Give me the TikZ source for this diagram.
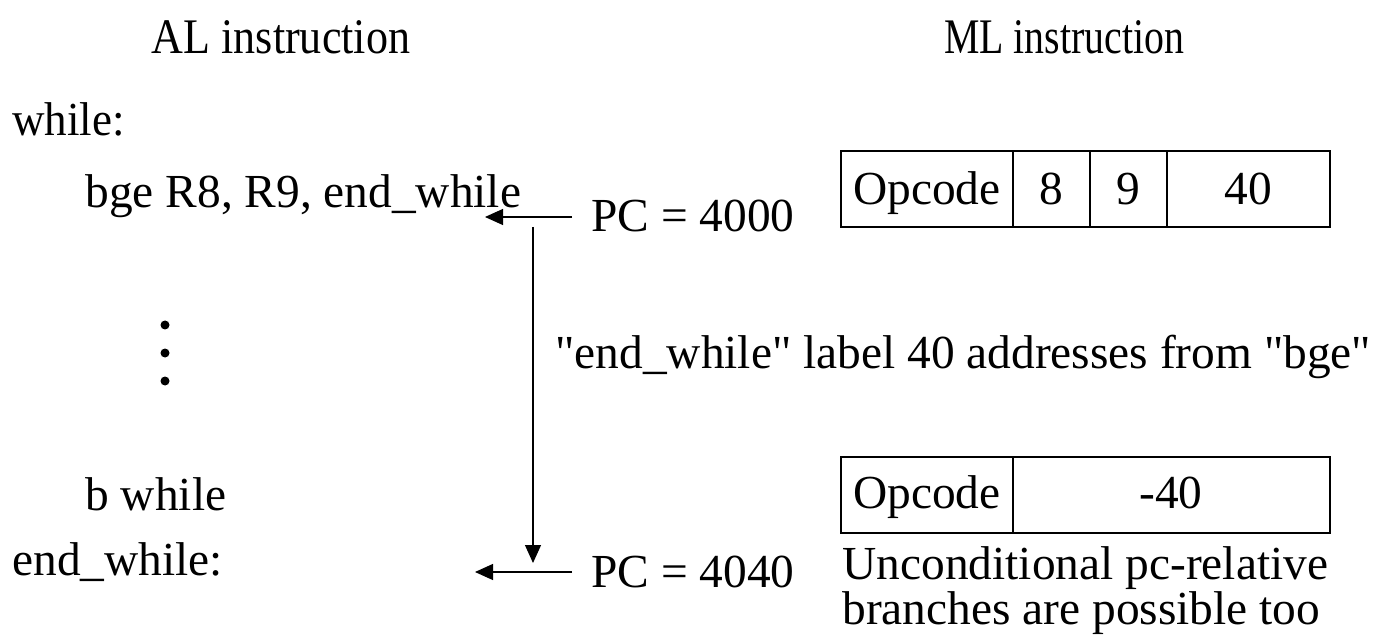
\documentclass[tikz,border=0pt]{standalone}
\usepackage{fontspec}
\usepackage{graphicx}
\setmainfont{Liberation Serif}[Ligatures=TeXOff]
\usetikzlibrary{arrows.meta}
\begin{document}
\begin{tikzpicture}[x=0.5pt,y=-0.5pt,
  txt/.style={inner sep=0pt,anchor=base west,font=\fontsize{23.7}{28}\selectfont},
  ctxt/.style={inner sep=0pt,anchor=base,font=\fontsize{23.7}{28}\selectfont},
  wire/.style={line width=0.6pt},
  arr/.style={wire,-{Triangle[length=9pt,width=8pt]}},
  cell/.style={line width=0.6pt},
  dot/.style={circle,fill,inner sep=0pt,minimum size=4.5pt}]
\useasboundingbox (0,0) rectangle (1390,641);

% column headings
\node[ctxt] (alhead) at (281,54) {\scalebox{0.93}[1.05]{AL instruction}};
\node[ctxt] (mlhead) at (1064,54) {\scalebox{0.84}[1.05]{ML instruction}};

% assembly listing
\node[txt] (while) at (12,136) {\scalebox{0.95}[1]{while:}};
\node[txt] (bge) at (85,208) {bge R8, R9, end\_while};
\node[dot] (d1) at (165,325) {};
\node[dot] (d2) at (165,353) {};
\node[dot] (d3) at (165,381) {};
\node[txt] (bwhile) at (85,510) {b while};
\node[txt] (endwhile) at (12,575) {end\_while:};

% program counter values
\node[txt] (pc1) at (591,232) {PC = 4000};
\node[txt] (pc2) at (591,587) {PC = 4040};
\node[txt] (offset) at (555,368) {"end\_while" label 40 addresses from "bge"};

% arrows
\coordinate (pc1tail) at (572,217);
\coordinate (pc1tip) at (485,217);
\coordinate (jumptop) at (533,227);
\coordinate (jumpend) at (533,563);
\coordinate (pc2tail) at (572,572);
\coordinate (pc2tip) at (475,572);
\draw[arr] (pc1tail) -- (pc1tip);
\draw[arr] (jumptop) -- (jumpend);
\draw[arr] (pc2tail) -- (pc2tip);

% conditional branch instruction format
\draw[cell] (841,151) rectangle (1330,227);
\draw[cell] (1013,151) -- (1013,227);
\draw[cell] (1090,151) -- (1090,227);
\draw[cell] (1167,151) -- (1167,227);
\node[ctxt] (op1) at (927,205) {Opcode};
\node[ctxt] (r8) at (1051,205) {8};
\node[ctxt] (r9) at (1128,205) {9};
\node[ctxt] (off1) at (1248,205) {40};

% unconditional branch instruction format
\draw[cell] (841,457) rectangle (1330,533);
\draw[cell] (1013,457) -- (1013,533);
\node[ctxt] (op2) at (927,508) {Opcode};
\node[ctxt] (off2) at (1171,508) {-40};

\node[txt] (note1) at (842,579) {Unconditional pc-relative};
\node[txt] (note2) at (842,624) {branches are possible too};
\end{tikzpicture}
\end{document}
